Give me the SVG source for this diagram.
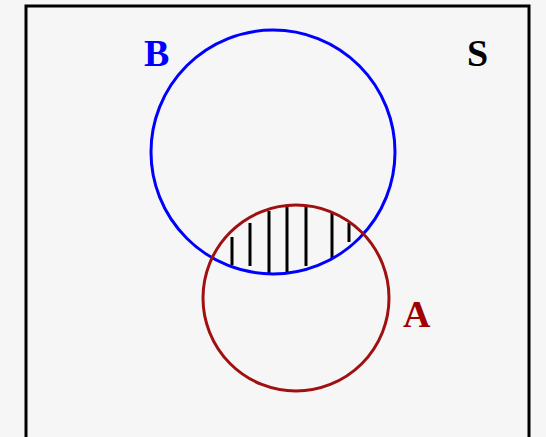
<svg xmlns="http://www.w3.org/2000/svg" width="546" height="437" viewBox="0 0 546 437">
<style>
.lbl{font-family:"Liberation Serif","Times New Roman",serif;font-weight:bold;font-size:38px}
.hatch line{stroke:#000;stroke-width:3}
</style>
<rect x="0" y="0" width="546" height="437" fill="#f6f6f6"/>
<g id="universe">
<rect x="26" y="6" width="503" height="440" fill="#f6f6f6" stroke="#000" stroke-width="3"/>
<text class="lbl" x="467" y="66" fill="#000">S</text>
</g>
<g id="hatch" class="hatch">
<line x1="232" y1="237" x2="232" y2="265"/>
<line x1="250" y1="223" x2="250" y2="266"/>
<line x1="269" y1="211" x2="269" y2="273"/>
<line x1="287" y1="205" x2="287" y2="273"/>
<line x1="306" y1="205" x2="306" y2="266"/>
<line x1="332" y1="212" x2="332" y2="258"/>
<line x1="349" y1="223" x2="349" y2="242"/>
</g>
<g id="setB">
<circle cx="273" cy="152" r="122" fill="none" stroke="#0000ff" stroke-width="3"/>
<text class="lbl" x="144" y="66" fill="#0000ff">B</text>
</g>
<g id="setA">
<circle cx="296" cy="298" r="93" fill="none" stroke="#a01010" stroke-width="3"/>
<text class="lbl" x="403" y="327" fill="#a00000">A</text>
</g>
</svg>
